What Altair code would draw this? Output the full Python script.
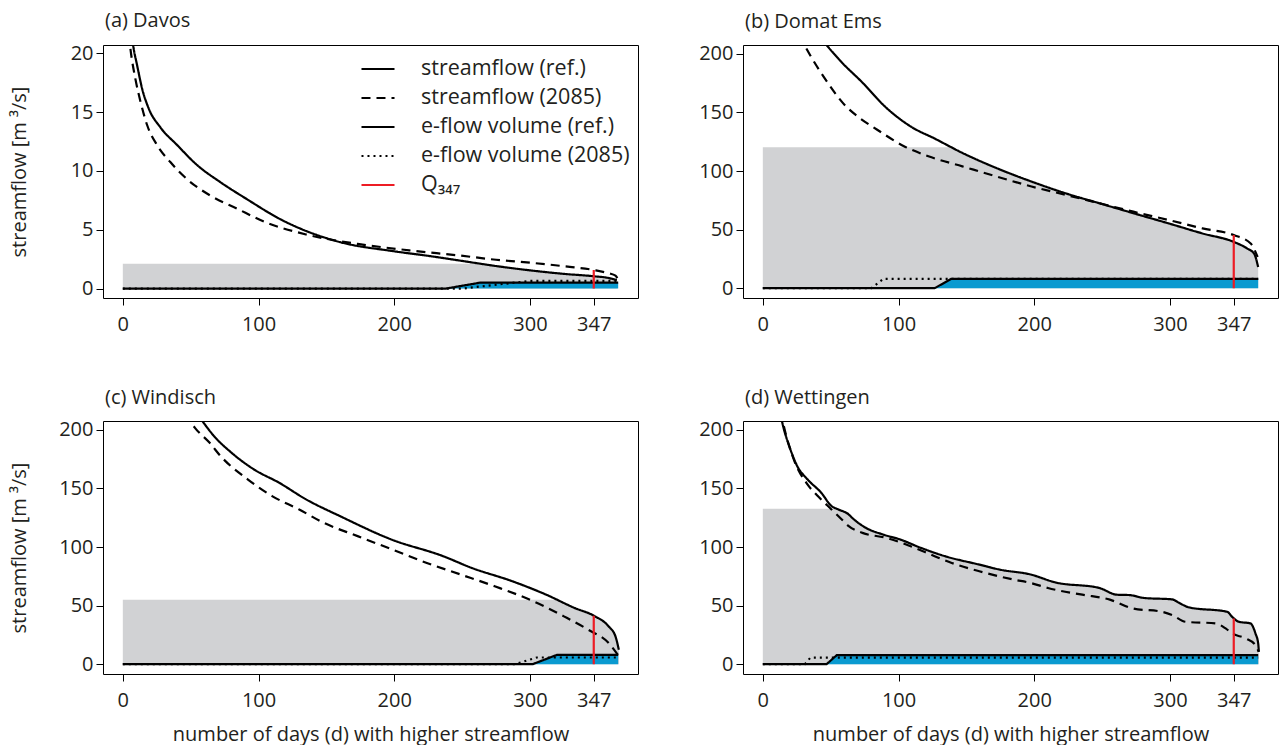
import altair as alt
import numpy as np
import pandas as pd

FONT = "Open Sans"
TXT = "#231f20"
GREY = "#d1d2d4"
BLUE = "#0a9ad0"
RED = "#ed1c24"

SERIES = ["streamflow (ref.)", "streamflow (2085)", "e-flow volume (ref.)",
          "e-flow volume (2085)", "Q₃₄₇"]
X_TICKS = [0, 100, 200, 300, 347]

# ---------------- (a) Davos ----------------
a_ref_d = [0, 7.6, 10.5, 14.2, 19.1, 27.7, 40, 54.7, 71.8, 91.4, 116, 160, 198, 227, 250, 276, 300, 325, 347, 358, 364]
a_ref_q = [32, 20.7, 19.0, 17.0, 15.3, 13.7, 12.2, 10.5, 9.05, 7.6, 5.9, 3.95, 3.2, 2.75, 2.35, 1.9, 1.55, 1.25, 1.05, 0.9, 0.72]
a_fut_d = [0, 5.6, 9.3, 13, 17.9, 25.2, 35, 47.3, 64.5, 84, 106, 135, 173, 211, 249, 275, 300, 325, 347, 358, 363, 365]
a_fut_q = [28, 20.4, 17.8, 15.9, 13.9, 12.2, 10.75, 9.3, 7.9, 6.8, 5.6, 4.6, 3.8, 3.25, 2.8, 2.45, 2.2, 1.9, 1.58, 1.3, 1.1, 0.75]
a_eref_d = [0, 238, 263, 365]
a_eref_q = [0, 0, 0.5, 0.5]
a_efut_d = [0, 250, 300, 365]
a_efut_q = [0, 0, 0.65, 0.65]
a_cap = 2.1
a_q347 = 1.58

# ---------------- (b) Domat Ems ----------------
b_ref_d = [0, 46, 58, 73, 91, 109, 127, 147, 172, 198, 223, 248, 273, 299, 324, 347, 357, 362, 365]
b_ref_q = [300, 209, 193, 176, 154, 138, 127.5, 115.5, 102.6, 91, 81, 72.5, 64, 55.3, 46.7, 39.5, 33.8, 29.5, 18]
b_fut_d = [0, 30, 35, 46, 61, 71, 84, 104, 122, 147, 172, 198, 223, 248, 273, 299, 324, 347, 359.5, 364.6]
b_fut_q = [300, 209, 198.6, 178.5, 155.6, 145.6, 135.5, 121.2, 112.6, 104, 95.4, 86.8, 79.7, 72.5, 65.3, 58.2, 51, 45.3, 38.1, 26.6]
b_eref_d = [0, 126.6, 139, 365]
b_eref_q = [0, 0, 8, 8]
b_efut_d = [0, 80, 89, 365]
b_efut_q = [0, 0, 8, 8]
b_cap = 120.3
b_q347 = 45.3

# ---------------- (c) Windisch ----------------
c_ref_d = [0, 58, 67, 80, 97, 115, 135, 160, 198, 236, 257, 287, 312, 333, 347, 358, 363, 365.5]
c_ref_q = [330, 208.5, 195, 180.6, 166, 155, 140.7, 126.4, 106.4, 92.2, 82.2, 70.8, 59.3, 47.9, 41.4, 32.2, 23.7, 12.3]
c_fut_d = [0, 49, 53, 64, 72, 92, 110, 130, 148, 173, 198.5, 224, 249, 274, 300, 325, 343, 358, 365.6]
c_fut_q = [330, 208.5, 202, 189, 177.7, 157.8, 143.5, 132, 120.7, 109.3, 97.9, 86.4, 76.5, 66.5, 55, 40.8, 29.4, 18, 6.6]
c_eref_d = [0, 302, 320, 365]
c_eref_q = [0, 0, 8, 8]
c_efut_d = [0, 289, 305, 365]
c_efut_q = [0, 0, 5.7, 5.7]
c_cap = 55
c_q347 = 41.4

# ---------------- (d) Wettingen ----------------
d_ref_d = [0, 13.9, 20.3, 25.3, 32.9, 43.0, 50.6, 55.7, 63.3, 65.8, 75.9, 88.6, 101.3, 116.5, 134.2, 159.5,
           174.7, 197.5, 215.2, 248.1, 260.8, 270, 281.0, 301.7, 306.6, 314, 342.2, 345.8, 350.7,
           359.3, 363, 365, 365.5]
d_ref_q = [330, 208.6, 183.5, 169.2, 157.8, 146.4, 135.0, 132.1, 127.8, 125.0, 116.4, 110.7, 106.4, 99.3,
           92.2, 85.0, 80.7, 76.5, 69.9, 65.0, 59.3, 59.0, 56.5, 55.3, 52.4, 48.5, 44.7, 40.4, 36.2, 34.8,
           26.2, 17.7, 10.6]
d_fut_d = [0, 15.2, 22.8, 32.9, 40.5, 50.6, 58.2, 63.3, 73.4, 91.1, 108.9, 126.6, 139.2, 159.5, 184.8,
           197.5, 210.1, 235.4, 255.7, 272.3, 294.3, 301.7, 311.5, 333.6, 341, 345.8, 355.7, 363, 365.4]
d_fut_q = [330, 204.8, 174.9, 153.5, 143.5, 132.1, 123.5, 117.8, 112.1, 107.8, 100.7, 92.2, 86.4, 79.3,
           72.2, 69.3, 65.0, 59.3, 55.1, 47.6, 44.7, 41.9, 36.2, 34.8, 30.5, 26.2, 22, 16.2, 10.5]
d_eref_d = [0, 47, 54.5, 365]
d_eref_q = [0, 0, 7.7, 7.7]
d_efut_d = [0, 31, 35, 365]
d_efut_q = [0, 0, 5.5, 5.5]
d_cap = 132.7
d_q347 = 39

PANELS = [
    dict(title="(a) Davos", ref=(a_ref_d, a_ref_q), fut=(a_fut_d, a_fut_q), eref=(a_eref_d, a_eref_q),
         efut=(a_efut_d, a_efut_q), cap=a_cap, q347=a_q347, ydom=[-0.8, 20.7], yt=[0, 5, 10, 15, 20]),
    dict(title="(b) Domat Ems", ref=(b_ref_d, b_ref_q), fut=(b_fut_d, b_fut_q), eref=(b_eref_d, b_eref_q),
         efut=(b_efut_d, b_efut_q), cap=b_cap, q347=b_q347, ydom=[-8.4, 207.6], yt=[0, 50, 100, 150, 200]),
    dict(title="(c) Windisch", ref=(c_ref_d, c_ref_q), fut=(c_fut_d, c_fut_q), eref=(c_eref_d, c_eref_q),
         efut=(c_efut_d, c_efut_q), cap=c_cap, q347=c_q347, ydom=[-8.4, 207.6], yt=[0, 50, 100, 150, 200]),
    dict(title="(d) Wettingen", ref=(d_ref_d, d_ref_q), fut=(d_fut_d, d_fut_q), eref=(d_eref_d, d_eref_q),
         efut=(d_efut_d, d_efut_q), cap=d_cap, q347=d_q347, ydom=[-8.4, 207.6], yt=[0, 50, 100, 150, 200]),
]


def capped(d, q, cap):
    """min(q, cap) polyline, with the crossing point inserted."""
    out_d, out_q = [], []
    for i in range(len(d)):
        if i > 0:
            q0, q1 = q[i - 1], q[i]
            if (q0 - cap) * (q1 - cap) < 0:
                t = (q0 - cap) / (q0 - q1)
                out_d.append(d[i - 1] + t * (d[i] - d[i - 1]))
                out_q.append(cap)
        out_d.append(d[i])
        out_q.append(min(q[i], cap))
    return pd.DataFrame({"d": out_d, "q": out_q})


def series_df(pairs):
    rows = []
    for name, (dd, qq) in pairs:
        for k, (x, y) in enumerate(zip(dd, qq)):
            rows.append({"series": name, "d": x, "q": y, "ord": k})
    return pd.DataFrame(rows)


def make_panel(p, legend, xtitle, ytitle):
    stream_df = series_df([(SERIES[0], p["ref"]), (SERIES[1], p["fut"])])
    eflow_df = series_df([(SERIES[2], p["eref"]), (SERIES[3], p["efut"])])
    q_df = series_df([(SERIES[4], ([347, 347], [0, p["q347"]]))])
    grey_df = capped(p["ref"][0], p["ref"][1], p["cap"])
    blue_df = pd.DataFrame({"d": p["eref"][0], "q": p["eref"][1]})

    x = alt.X("d:Q", scale=alt.Scale(domain=[-14.6, 379.6], nice=False, zero=False),
              axis=alt.Axis(values=X_TICKS, title=xtitle, labelFlush=False))
    y = alt.Y("q:Q", scale=alt.Scale(domain=p["ydom"], nice=False, zero=False),
              axis=alt.Axis(values=p["yt"], title=ytitle, titleX=-74))

    grey = alt.Chart(grey_df).mark_area(color=GREY, clip=True, interpolate="monotone").encode(x=x, y=y)
    blue = alt.Chart(blue_df).mark_area(color=BLUE, clip=True).encode(x=x, y=y)

    if legend:
        leg = alt.Legend(title=None, orient="none", legendX=257, legendY=6, symbolType="stroke",
                         symbolSize=1090, labelFont=FONT, labelFontSize=21.5, labelColor=TXT,
                         labelOffset=25, labelLimit=400, rowPadding=-2.5, padding=0)
    else:
        leg = None
    enc = dict(
        x=x, y=y,
        color=alt.Color("series:N", scale=alt.Scale(domain=SERIES, range=["#000000", "#000000", "#000000", "#000000", RED]),
                        legend=leg, sort=SERIES),
        strokeDash=alt.StrokeDash("series:N", scale=alt.Scale(domain=SERIES, range=[[1, 0], [9, 6], [1, 0], [2, 4], [1, 0]]),
                                  legend=leg, sort=SERIES),
        strokeWidth=alt.StrokeWidth("series:N", scale=alt.Scale(domain=SERIES, range=[2.2, 2.2, 1, 1, 2.2]),
                                    legend=leg, sort=SERIES),
        order=alt.Order("ord:Q"),
    )
    eflow = alt.Chart(eflow_df).mark_line(clip=True).encode(**enc)
    stream = alt.Chart(stream_df).mark_line(clip=True, interpolate="monotone").encode(**enc)
    q347 = alt.Chart(q_df).mark_line(clip=True).encode(**enc)
    return alt.layer(grey, blue, eflow, stream, q347).properties(
        width=535, height=253,
        title=alt.TitleParams(p["title"], anchor="start", frame="group", fontSize=20, font=FONT,
                              fontWeight="normal", color=TXT, offset=12, dx=2),
    )


pa = make_panel(PANELS[0], True, None, "streamflow [m ³/s]")
pb = make_panel(PANELS[1], False, None, None)
pc = make_panel(PANELS[2], False, "number of days (d) with higher streamflow", "streamflow [m ³/s]")
pd_ = make_panel(PANELS[3], False, "number of days (d) with higher streamflow", None)

res = dict(color="independent", strokeDash="independent", strokeWidth="independent")
chart = alt.concat(pa, pb, pc, pd_, columns=2, spacing={"row": 123, "column": 105},
                   bounds="flush").resolve_scale(**res).properties(
    padding={"left": 8, "top": 10, "right": 0, "bottom": 0}
).configure_view(stroke="black", strokeWidth=1).configure_axis(
    domain=False, grid=False, tickColor="black", tickSize=7, tickWidth=1,
    labelFont=FONT, labelFontSize=20, labelColor=TXT, labelPadding=3,
    titleFont=FONT, titleFontSize=20, titleFontWeight="normal", titleColor=TXT,
).configure_axisX(titlePadding=14, labelPadding=9).configure_legend(
    labelFont=FONT, labelFontSize=21.5, labelColor=TXT, labelLimit=400
)

chart.save("out.html", embed_options={"renderer": "svg", "actions": False})
